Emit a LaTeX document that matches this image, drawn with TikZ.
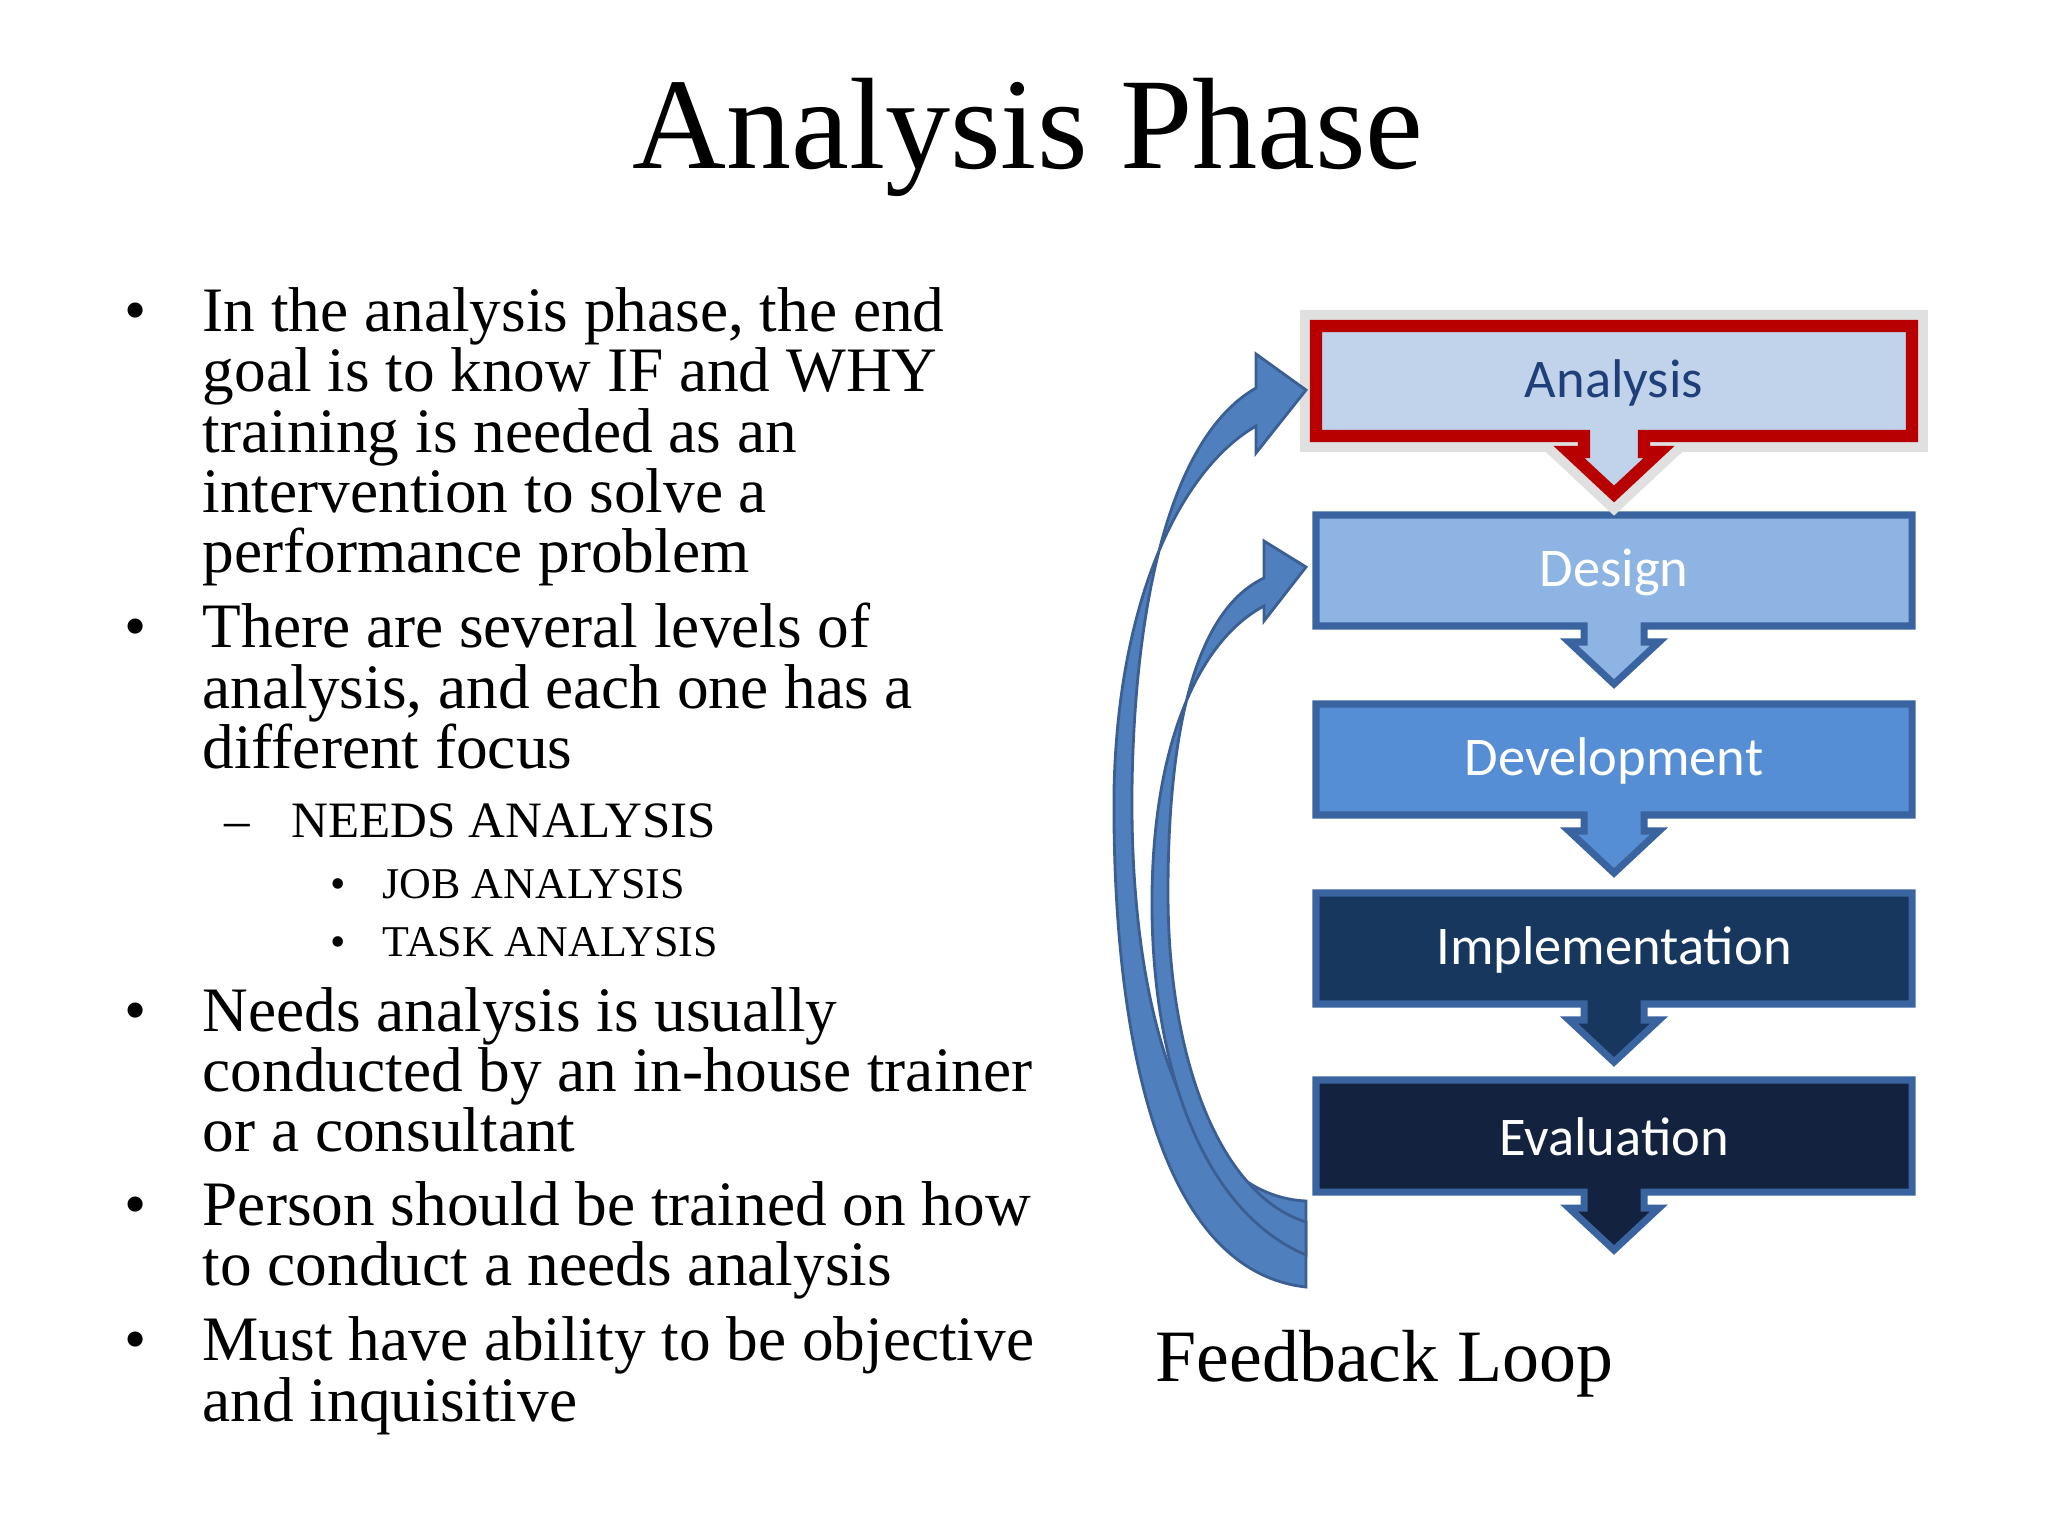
\documentclass[tikz,border=0pt]{standalone}
\usepackage{fontspec}
\setmainfont{Liberation Serif}
\newfontfamily\boxfont{Carlito}
\definecolor{aFill}{HTML}{C0D3EA}
\definecolor{dFill}{HTML}{8EB4E3}
\definecolor{vFill}{HTML}{558ED5}
\definecolor{iFill}{HTML}{17375E}
\definecolor{eFill}{HTML}{12223F}
\definecolor{bEdge}{HTML}{3A64A0}
\definecolor{rEdge}{HTML}{B80000}
\definecolor{loopFill}{HTML}{4F7FBD}
\definecolor{loopEdge}{HTML}{3B5F92}
\definecolor{aText}{HTML}{1F3F78}
\tikzset{
 stagebox/.style={line width=2pt,draw=bEdge},
 stagelabel/.style={font=\boxfont\fontsize{15.5}{18}\selectfont,text=white},
 bodyline/.style={anchor=base west,inner sep=0pt,font=\fontsize{18}{18}\selectfont},
 subline/.style={anchor=base west,inner sep=0pt,font=\fontsize{14.5}{14.5}\selectfont},
 subsubline/.style={anchor=base west,inner sep=0pt,font=\fontsize{12.5}{12.5}\selectfont},
 loopband/.style={fill=loopFill,draw=loopEdge,line width=0.8pt},
}
\begin{document}
\begin{tikzpicture}[x=0.01cm,y=-0.01cm]
\useasboundingbox (0,0) rectangle (2048,1536);
\fill[white] (0,0) rectangle (2048,1536);
\node[anchor=base,inner sep=0pt,font=\fontsize{37}{37}\selectfont] (title) at (1028,168) {Analysis Phase};
% body
\foreach \y/\t in {331/{In the analysis phase, the end},391/{goal is to know IF and WHY},452/{training is needed as an},512/{intervention to solve a},572/{performance problem},647/{There are several levels of},708/{analysis, and each one has a},768/{different focus},1031/{Needs analysis is usually},1091/{conducted by an in-house trainer},1151/{or a consultant},1225/{Person should be trained on how},1285/{to conduct a needs analysis},1360/{Must have ability to be objective},1421/{and inquisitive}}
  \node[bodyline] at (202,\y) {\t};
\foreach \y/\n in {331/b1,647/b2,1031/b3,1225/b4,1360/b5}
  \node[bodyline] (\n) at (124,\y) {\textbullet};
\node[subline] (dash) at (224,837) {--};
\node[subline] (needs) at (291,837) {NEEDS ANALYSIS};
\node[subsubline] (sb1) at (330,898) {\textbullet};
\node[subsubline] (job) at (382,898) {JOB ANALYSIS};
\node[subsubline] (sb2) at (330,956) {\textbullet};
\node[subsubline] (task) at (382,956) {TASK ANALYSIS};
% stages
\def\L{1316}\def\R{1912}\def\C{1614}
\foreach \T/\B/\f/\e/\n in {515/626/dFill/bEdge/design,704/815/vFill/bEdge/devel,893/1004/iFill/bEdge/impl,1080/1192/eFill/bEdge/evalu}{
  \draw[stagebox,fill=\f,draw=\e] (\L,\T)--(\R,\T)--(\R,\B)--(\C+30,\B)--(\C+30,\B+16)--(\C+45,\B+16)--(\C,\B+58)--(\C-45,\B+16)--(\C-30,\B+16)--(\C-30,\B)--(\L,\B)--cycle;
}
% analysis with glow
\draw[black!12,line width=9pt,line join=miter,fill=aFill] (\L,326)--(\R,326)--(\R,436)--(\C+30,436)--(\C+30,452)--(\C+45,452)--(\C,494)--(\C-45,452)--(\C-30,452)--(\C-30,436)--(\L,436)--cycle;
\draw[draw=rEdge,line width=3.5pt,fill=aFill] (\L,326)--(\R,326)--(\R,436)--(\C+30,436)--(\C+30,452)--(\C+45,452)--(\C,494)--(\C-45,452)--(\C-30,452)--(\C-30,436)--(\L,436)--cycle;
\node[stagelabel,text=aText] (analysis) at (\C,383) {Analysis};
\node[stagelabel] (designl) at (\C,572) {Design};
\node[stagelabel] (devl) at (\C,761) {Development};
\node[stagelabel] (impll) at (\C,950) {Implementation};
\node[stagelabel] (evall) at (\C,1137) {Evaluation};
% feedback arrows
\draw[loopband] (1306,1287) .. controls (1150,1270) and (1112,1010) .. (1114,790) .. controls (1118,600) and (1180,470) .. (1256,426) -- (1256,453) -- (1306,390) -- (1256,354) -- (1256,388) .. controls (1165,440) and (1134,620) .. (1132,790) .. controls (1130,1000) and (1180,1195) .. (1306,1201) -- cycle;
\draw[loopband] (1306,1255) .. controls (1200,1210) and (1150,1060) .. (1152,893) .. controls (1154,740) and (1200,640) .. (1264,606) -- (1264,621) -- (1306,567) -- (1264,541) -- (1264,578) .. controls (1192,612) and (1168,740) .. (1168,893) .. controls (1168,1060) and (1220,1195) .. (1306,1222) -- cycle;
\node[anchor=base west,inner sep=0pt,font=\fontsize{21}{21}\selectfont] (loop) at (1155,1381) {Feedback Loop};
\end{tikzpicture}
\end{document}
